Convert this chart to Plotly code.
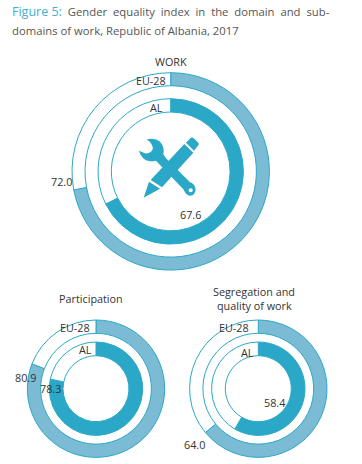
import plotly.graph_objects as go

W, H = 362, 464
groups = ["Work", "Participation", "Segregation and quality of work"]
eu28_values = [72.0, 80.9, 64.0]
al_values = [67.6, 78.3, 58.4]
ring_labels = ["EU-28", "AL"]
BLUE = "#2BA8C8"
LIGHT = "#7BBBD4"
TXT = "#333333"
FONT = "Open Sans"

# geometry: (cx, cy, outer r, outer hole r, inner r, inner hole r)
geo = [(170.7, 171.4, 98.7, 85.7, 72.7, 59.4),
       (96.0, 388.7, 68.7, 55.4, 46.7, 33.0),
       (258.3, 388.7, 68.7, 55.4, 46.7, 33.0)]

fig = go.Figure()

def ring(value, cx, cy, r, rh, color, name):
    fig.add_trace(go.Pie(
        values=[value, 100 - value], labels=[name, ""], sort=False, direction="clockwise",
        rotation=0, hole=rh / r, textinfo="none", hoverinfo="skip", showlegend=False,
        marker=dict(colors=[color, "white"], line=dict(color=BLUE, width=1)),
        domain=dict(x=[(cx - r) / W, (cx + r) / W], y=[1 - (cy + r) / H, 1 - (cy - r) / H]),
    ))

for e, a, g in zip(eu28_values, al_values, geo):
    cx, cy, r1, h1, r2, h2 = g
    ring(e, cx, cy, r1, h1, LIGHT, "EU-28")
    ring(a, cx, cy, r2, h2, BLUE, "AL")

def txt(x, y, s, size=10.8, color=TXT, anchor="center"):
    fig.add_annotation(xref="paper", yref="paper", x=x / W, y=1 - y / H, text=s, showarrow=False,
                       xanchor=anchor, yanchor="middle", align="center",
                       font=dict(family=FONT, size=size, color=color))

txt(10, 12, '<span style="color:#3FB0CE;font-size:12.5px">Figure\u00a05:</span>\u00a0\u00a0Gender\u00a0\u00a0equality\u00a0\u00a0index\u00a0\u00a0in\u00a0\u00a0the\u00a0\u00a0domain\u00a0\u00a0and\u00a0\u00a0sub-', 11.3, "#555555", "left")
txt(10, 30, "domains of work, Republic of Albania, 2017", 11.3, "#555555", "left")

txt(170.5, 62, "WORK")
txt(151, 80, "EU-28")
txt(156, 107, "AL")
txt(61, 182, "72.0")
txt(190.5, 214, "67.6")

txt(91, 298, "Participation")
txt(75, 327, "EU-28")
txt(85, 349, "AL")
txt(25, 377, "80.9")
txt(50, 388, "78.3")

txt(254, 291, "Segregation and")
txt(254, 305, "quality of work")
txt(234, 327, "EU-28")
txt(247, 352, "AL")
txt(274, 402, "58.4")
txt(194, 444, "64.0")

# decorative wrench-and-pencil icon, outlined in the crop's own pixel frame
def P(x, y):
    return f"{(x / 3 + 130) / W:.5f},{1 - (y / 3 + 130) / H:.5f}"

def path(cmds):
    out = []
    for c in cmds:
        if c == "Z":
            out.append("Z")
        else:
            op, *pts = c
            out.append(op + " " + " ".join(P(*p) for p in pts))
    return " ".join(out)

wrench = [("M", (50, 28)), ("Q", (75, 22), (90, 35)), ("Q", (105, 50), (100, 73)), ("L", (108, 85)),
          ("L", (180, 157)), ("C", (205, 165), (200, 200), (178, 197)), ("Q", (168, 195), (160, 178)),
          ("L", (78, 92)), ("Q", (50, 98), (37, 82)), ("Q", (29, 73), (27, 62)), ("L", (45, 70)),
          ("Q", (62, 72), (68, 58)), ("Q", (70, 42), (50, 28)), "Z"]
pencil_body = [("M", (62, 150)), ("L", (163, 42)), ("L", (190, 68)), ("L", (96, 172)), "Z"]
pencil_cone = [("M", (41, 203)), ("L", (57, 155)), ("L", (90, 176)), "Z"]
eraser = [("M", (168, 38)), ("L", (182, 24)), ("Q", (187, 21), (191, 25)), ("L", (205, 38)),
          ("Q", (208, 42), (205, 46)), ("L", (192, 62)), "Z"]

for d in (wrench, pencil_body, pencil_cone, eraser):
    fig.add_shape(type="path", xref="paper", yref="paper", path=path(d), fillcolor=BLUE,
                  line=dict(width=0), layer="above")

ring_x, ring_y, hole_r = (190.7, 190.2, 2.0)
fig.add_shape(type="circle", xref="paper", yref="paper",
              x0=(ring_x - hole_r) / W, x1=(ring_x + hole_r) / W,
              y0=1 - (ring_y + hole_r) / H, y1=1 - (ring_y - hole_r) / H,
              fillcolor="white", line=dict(width=0), layer="above")

fig.update_layout(width=W, height=H, margin=dict(l=0, r=0, t=0, b=0),
                  paper_bgcolor="white", plot_bgcolor="white")
fig.write_html("out.html", config=dict(displayModeBar=False),
               post_script="document.body.style.margin='0';document.body.style.overflow='hidden';")
